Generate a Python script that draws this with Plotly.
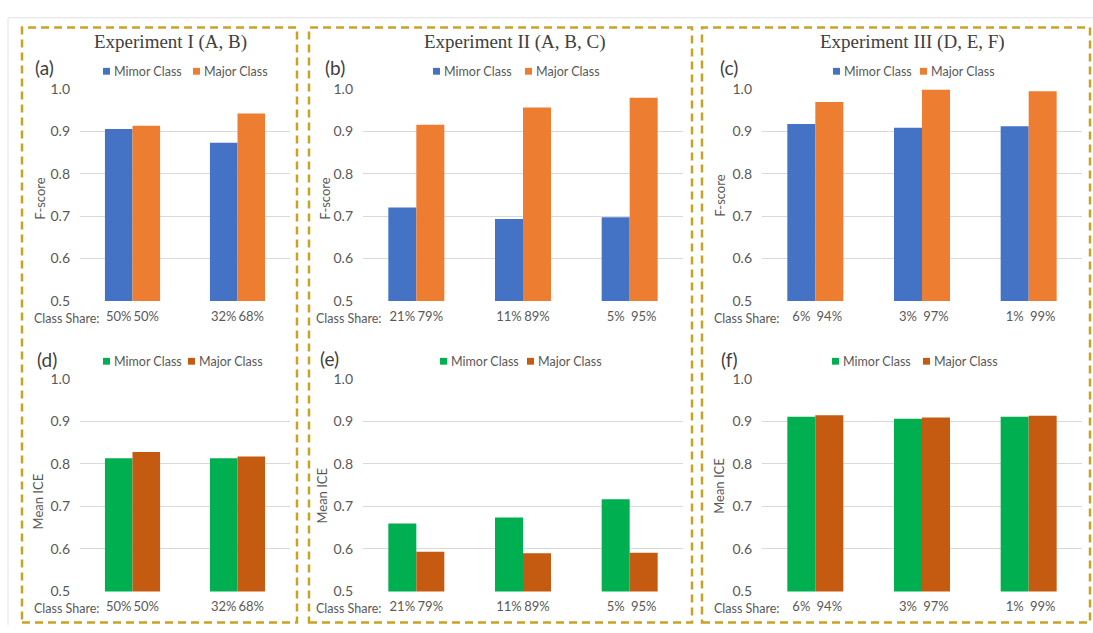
import plotly.graph_objects as go

# ---- data -------------------------------------------------------------
series_names = ["Mimor Class", "Major Class"]

share_minor_I = ["50%", "32%"]
share_major_I = ["50%", "68%"]
share_minor_II = ["21%", "11%", "5%"]
share_major_II = ["79%", "89%", "95%"]
share_minor_III = ["6%", "3%", "1%"]
share_major_III = ["94%", "97%", "99%"]

fscore_minor_I = [0.905, 0.873]
fscore_major_I = [0.913, 0.942]
fscore_minor_II = [0.720, 0.693, 0.697]
fscore_major_II = [0.915, 0.956, 0.979]
fscore_minor_III = [0.917, 0.908, 0.912]
fscore_major_III = [0.969, 0.998, 0.994]

ice_minor_I = [0.813, 0.813]
ice_major_I = [0.828, 0.817]
ice_minor_II = [0.660, 0.674, 0.717]
ice_major_II = [0.593, 0.590, 0.591]
ice_minor_III = [0.911, 0.906, 0.911]
ice_major_III = [0.914, 0.909, 0.913]

y_ticks = [0.5, 0.6, 0.7, 0.8, 0.9, 1.0]

experiment_titles = ["Experiment I (A, B)", "Experiment II (A, B, C)", "Experiment III (D, E, F)"]
panel_letters = ["(a)", "(b)", "(c)", "(d)", "(e)", "(f)"]

# ---- styling ----------------------------------------------------------
W, H = 1093, 633
BLUE, ORANGE = "#4472C4", "#ED7D31"
GREEN, RUST = "#00B050", "#C55A11"
GRID = "#D9D9D9"
TXT = "#595959"
GOLD = "#C9A227"
SANS = "Lato, Carlito, Calibri, sans-serif"
SERIF = "Liberation Serif, Times New Roman, serif"
BARGAP = 0.475


def fx(px):
    return px / W


def fy(py):
    return 1 - py / H


# panel geometry in pixels: (x0, x1, y_top, y_bottom)
panels = [
    dict(x=(80, 290), y=(82, 300), title="F-score", ty=195, tx=40, lx=33, ly=60,
         cs=101, leg=(103, 193), minor=fscore_minor_I, major=fscore_major_I,
         sm=share_minor_I, sM=share_major_I, colors=(BLUE, ORANGE)),
    dict(x=(363, 683), y=(82, 300), title="F-score", ty=195, tx=325, lx=323, ly=60,
         cs=383, leg=(433, 525), minor=fscore_minor_II, major=fscore_major_II,
         sm=share_minor_II, sM=share_major_II, colors=(BLUE, ORANGE)),
    dict(x=(762, 1082), y=(82, 300), title="F-score", ty=192, tx=720, lx=718, ly=60,
         cs=781, leg=(833, 920), minor=fscore_minor_III, major=fscore_major_III,
         sm=share_minor_III, sM=share_major_III, colors=(BLUE, ORANGE)),
    dict(x=(80, 290), y=(380, 598.5), title="Mean ICE", ty=506, tx=38, lx=35, ly=360,
         cs=101, leg=(103, 188), minor=ice_minor_I, major=ice_major_I,
         sm=share_minor_I, sM=share_major_I, colors=(GREEN, RUST)),
    dict(x=(363, 683), y=(380, 598.5), title="Mean ICE", ty=500, tx=322, lx=318, ly=359,
         cs=383, leg=(440, 527), minor=ice_minor_II, major=ice_major_II,
         sm=share_minor_II, sM=share_major_II, colors=(GREEN, RUST)),
    dict(x=(762, 1082), y=(380, 598.5), title="Mean ICE", ty=490, tx=719, lx=719, ly=360,
         cs=781, leg=(832, 923), minor=ice_minor_III, major=ice_major_III,
         sm=share_minor_III, sM=share_major_III, colors=(GREEN, RUST)),
]

fig = go.Figure()
layout = dict(
    width=W, height=H,
    margin=dict(l=0, r=0, t=0, b=0),
    paper_bgcolor="white", plot_bgcolor="white",
    barmode="group", bargap=BARGAP, bargroupgap=0,
    showlegend=False,
    font=dict(family=SANS, color=TXT, size=13),
)
annotations = []
shapes = []

off = (1 - BARGAP) / 4  # centre offset of each bar inside its group

for k, p in enumerate(panels):
    n = len(p["minor"])
    idx = list(range(n))
    sfx = "" if k == 0 else str(k + 1)
    xa, ya = "x" + sfx, "y" + sfx
    c_minor, c_major = p["colors"]
    fig.add_trace(go.Bar(x=idx, y=p["minor"], name=series_names[0], marker=dict(color=c_minor, line=dict(width=0)),
                         xaxis=xa, yaxis=ya, offsetgroup="minor"))
    fig.add_trace(go.Bar(x=idx, y=p["major"], name=series_names[1], marker=dict(color=c_major, line=dict(width=0)),
                         xaxis=xa, yaxis=ya, offsetgroup="major"))

    tickvals, ticktext = [], []
    for i in idx:
        tickvals += [i - off, i + off]
        ticktext += [p["sm"][i], p["sM"][i]]

    layout["xaxis" + sfx] = dict(
        domain=[fx(p["x"][0]), fx(p["x"][1])], anchor=ya, range=[-0.5, n - 0.5],
        tickmode="array", tickvals=tickvals, ticktext=ticktext, ticks="", tickangle=0,
        showgrid=False, zeroline=False, showline=False, fixedrange=True,
        tickfont=dict(size=13, color=TXT, family=SANS), ticklabelstandoff=6,
    )
    layout["yaxis" + sfx] = dict(
        domain=[fy(p["y"][1]), fy(p["y"][0])], anchor=xa, range=[0.5, 1.0],
        tickmode="array", tickvals=y_ticks, tickformat=".1f", ticks="",
        showgrid=True, gridcolor=GRID, gridwidth=1, zeroline=False, showline=False,
        tickfont=dict(size=14, color=TXT, family=SANS), ticklabelstandoff=9, fixedrange=True,
    )

    # y-axis title
    annotations.append(dict(text=p["title"], xref="paper", yref="paper", x=fx(p["tx"]), y=fy(p["ty"]),
                            textangle=-90, showarrow=False, font=dict(size=13, color=TXT, family=SANS),
                            xanchor="center", yanchor="middle"))
    # panel letter
    annotations.append(dict(text=panel_letters[k], xref="paper", yref="paper", x=fx(p["lx"]), y=fy(p["ly"]),
                            showarrow=False, font=dict(size=19, color="#404040", family=SANS),
                            xanchor="left", yanchor="middle"))
    # "Class Share:" lead-in for the x tick labels
    annotations.append(dict(text="Class Share:", xref="paper", yref="paper", x=fx(p["cs"]),
                            y=fy(p["y"][1] + 18), showarrow=False,
                            font=dict(size=12.5, color=TXT, family=SANS), xanchor="right", yanchor="middle"))
    # legend keys
    ly = p["y"][0] - 18
    for j, (sx, col) in enumerate(zip(p["leg"], p["colors"])):
        shapes.append(dict(type="rect", xref="paper", yref="paper",
                           x0=fx(sx), x1=fx(sx + 7), y0=fy(ly + 3.5), y1=fy(ly - 3.5),
                           fillcolor=col, line=dict(width=0)))
        annotations.append(dict(text=series_names[j], xref="paper", yref="paper", x=fx(sx + 9), y=fy(ly),
                                showarrow=False, font=dict(size=12.5, color=TXT, family=SANS),
                                xanchor="left", yanchor="middle"))

# experiment headings
for t, cx in zip(experiment_titles, [170, 515, 912]):
    annotations.append(dict(text=t, xref="paper", yref="paper", x=fx(cx), y=fy(34), showarrow=False,
                            font=dict(size=19, color="#404040", family=SERIF),
                            xanchor="center", yanchor="middle"))

# outer frame (top and left edges)
shapes.append(dict(type="line", xref="paper", yref="paper", x0=fx(8), x1=1, y0=fy(9), y1=fy(9),
                   line=dict(color="#E3E3E3", width=1)))
shapes.append(dict(type="line", xref="paper", yref="paper", x0=fx(8), x1=fx(8), y0=fy(9), y1=0,
                   line=dict(color="#E3E3E3", width=1)))

# dashed experiment boxes
for x0, x1 in [(22, 297), (309, 692), (702, 1090)]:
    shapes.append(dict(type="rect", xref="paper", yref="paper", x0=fx(x0), x1=fx(x1), y0=fy(630.5), y1=fy(19),
                       line=dict(color=GOLD, width=2.5, dash="8px,5px"), fillcolor="rgba(0,0,0,0)"))

layout["annotations"] = annotations
layout["shapes"] = shapes
fig.update_layout(**layout)

fig.write_html("out.html")
